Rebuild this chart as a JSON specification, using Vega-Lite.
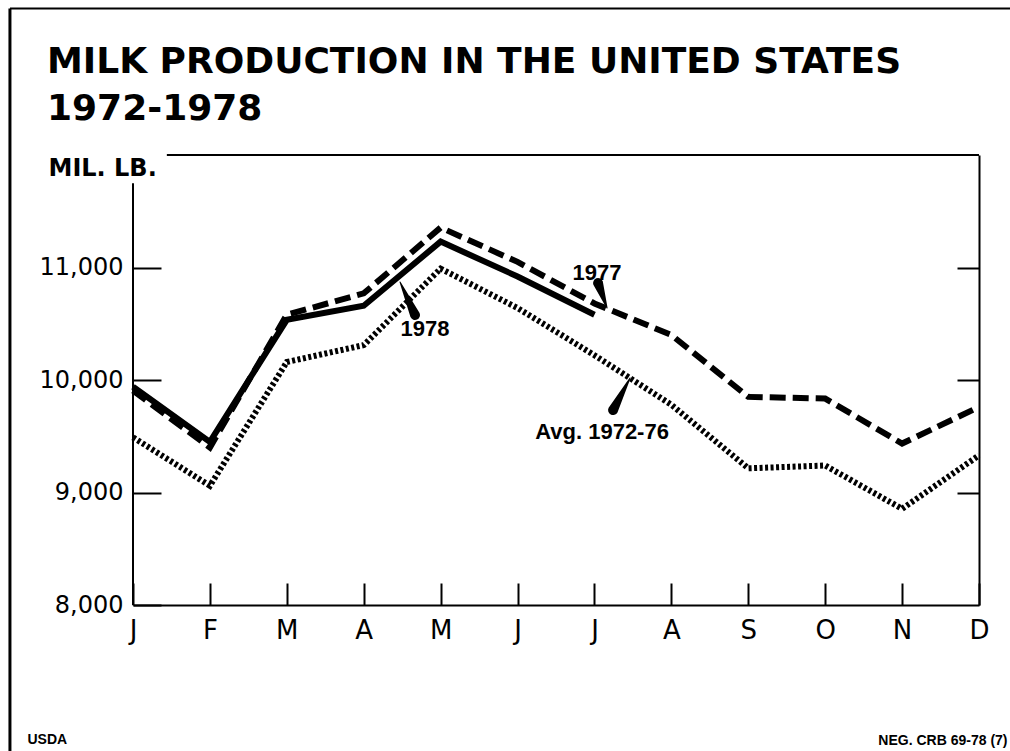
{
  "$schema": "https://vega.github.io/schema/vega-lite/v6.json",
  "width": 846,
  "height": 450,
  "autosize": "none",
  "padding": {"left": 133, "top": 155, "right": 31, "bottom": 146},
  "background": "white",
  "config": {"view": {"stroke": null}, "font": "DejaVu Sans"},
  "title": {
    "text": ["MILK PRODUCTION IN THE UNITED STATES", "1972-1978"],
    "anchor": "start",
    "frame": "group",
    "font": "DejaVu Sans",
    "fontSize": 36,
    "fontWeight": "bold",
    "lineHeight": 47,
    "color": "black",
    "baseline": "bottom",
    "dx": -86,
    "dy": 185,
    "offset": 28
  },
  "datasets": {
    "milk": [
      {"series": "Avg. 1972-76", "month": 1, "value": 9490},
      {"series": "Avg. 1972-76", "month": 2, "value": 9060},
      {"series": "Avg. 1972-76", "month": 3, "value": 10160},
      {"series": "Avg. 1972-76", "month": 4, "value": 10310},
      {"series": "Avg. 1972-76", "month": 5, "value": 10990},
      {"series": "Avg. 1972-76", "month": 6, "value": 10640},
      {"series": "Avg. 1972-76", "month": 7, "value": 10220},
      {"series": "Avg. 1972-76", "month": 8, "value": 9780},
      {"series": "Avg. 1972-76", "month": 9, "value": 9215},
      {"series": "Avg. 1972-76", "month": 10, "value": 9240},
      {"series": "Avg. 1972-76", "month": 11, "value": 8855},
      {"series": "Avg. 1972-76", "month": 12, "value": 9330},
      {"series": "1977", "month": 1, "value": 9905},
      {"series": "1977", "month": 2, "value": 9400},
      {"series": "1977", "month": 3, "value": 10580},
      {"series": "1977", "month": 4, "value": 10770},
      {"series": "1977", "month": 5, "value": 11355},
      {"series": "1977", "month": 6, "value": 11050},
      {"series": "1977", "month": 7, "value": 10680},
      {"series": "1977", "month": 8, "value": 10400},
      {"series": "1977", "month": 9, "value": 9850},
      {"series": "1977", "month": 10, "value": 9835},
      {"series": "1977", "month": 11, "value": 9435},
      {"series": "1977", "month": 12, "value": 9760},
      {"series": "1978", "month": 1, "value": 9940},
      {"series": "1978", "month": 2, "value": 9450},
      {"series": "1978", "month": 3, "value": 10535},
      {"series": "1978", "month": 4, "value": 10660},
      {"series": "1978", "month": 5, "value": 11230},
      {"series": "1978", "month": 6, "value": 10920},
      {"series": "1978", "month": 7, "value": 10580}
    ],
    "notes": [
      {"label": "1977", "month": 7.034, "value": 10889},
      {"label": "1978", "month": 4.797, "value": 10391},
      {"label": "Avg. 1972-76", "month": 7.099, "value": 9476}
    ],
    "pointers": [
      {"note": "1977", "end": "tip", "month": 7.164, "value": 10640},
      {"note": "1977", "end": "base", "month": 7.047, "value": 10862},
      {"note": "1978", "end": "tip", "month": 4.472, "value": 10871},
      {"note": "1978", "end": "base", "month": 4.667, "value": 10578},
      {"note": "Avg. 1972-76", "end": "tip", "month": 7.463, "value": 10018},
      {"note": "Avg. 1972-76", "end": "base", "month": 7.242, "value": 9733}
    ]
  },
  "layer": [
    {
      "data": {"name": "milk"},
      "transform": [{"filter": "datum.series === 'Avg. 1972-76'"}],
      "mark": {"type": "line", "color": "black", "strokeWidth": 6, "strokeDash": [3, 2.5], "strokeCap": "butt"},
      "encoding": {
        "x": {
          "field": "month", "type": "quantitative",
          "scale": {"domain": [1, 12], "nice": false, "zero": false},
          "axis": {
            "values": [1, 2, 3, 4, 5, 6, 7, 8, 9, 10, 11, 12],
            "labelExpr": "['J','F','M','A','M','J','J','A','S','O','N','D'][datum.value - 1]",
            "grid": false,
            "domain": true, "domainColor": "black", "domainWidth": 2,
            "ticks": true, "tickColor": "black", "tickWidth": 2, "tickSize": -22,
            "labelFont": "DejaVu Sans", "labelFontSize": 26, "labelColor": "black",
            "labelPadding": 34, "labelBaseline": "top", "labelFlush": false, "labelOverlap": false,
            "title": "USDA", "titleX": -106, "titleY": 138, "titleAlign": "left", "titleBaseline": "alphabetic",
            "titleFont": "Liberation Sans", "titleFontSize": 14, "titleFontWeight": "bold", "titleColor": "black"
          }
        },
        "y": {
          "field": "value", "type": "quantitative",
          "scale": {"domain": [8000, 12000], "nice": false, "zero": false},
          "axis": {
            "orient": "left",
            "values": [8000, 9000, 10000, 11000],
            "format": ",.0f",
            "grid": false,
            "domain": false,
            "ticks": true, "tickColor": "black", "tickWidth": 2, "tickSize": -28,
            "labelFont": "DejaVu Sans", "labelFontSize": 24, "labelColor": "black",
            "labelPadding": 38, "labelFlush": false, "labelOverlap": false,
            "title": "MIL. LB.", "titleAngle": 0, "titleX": -85, "titleY": 20, "titleAlign": "left", "titleBaseline": "alphabetic",
            "titleFont": "DejaVu Sans", "titleFontSize": 24, "titleFontWeight": "bold", "titleColor": "black"
          }
        }
      }
    },
    {
      "data": {"name": "milk"},
      "transform": [{"filter": "datum.series === '1977'"}],
      "mark": {"type": "line", "color": "black", "strokeWidth": 6, "strokeDash": [16, 7], "strokeCap": "butt"},
      "encoding": {
        "x": {"field": "month", "type": "quantitative", "scale": {"domain": [1, 12], "nice": false, "zero": false}},
        "y": {"field": "value", "type": "quantitative", "scale": {"domain": [8000, 12000], "nice": false, "zero": false}, "axis": null}
      }
    },
    {
      "data": {"name": "milk"},
      "transform": [{"filter": "datum.series === '1978'"}],
      "mark": {"type": "line", "color": "black", "strokeWidth": 6, "strokeCap": "butt"},
      "encoding": {
        "x": {"field": "month", "type": "quantitative", "scale": {"domain": [1, 12], "nice": false, "zero": false}},
        "y": {
          "field": "value", "type": "quantitative",
          "scale": {"domain": [8000, 12000], "nice": false, "zero": false},
          "axis": {
            "orient": "right",
            "values": [9000, 10000, 11000],
            "grid": false,
            "domain": true, "domainColor": "black", "domainWidth": 2,
            "ticks": true, "tickColor": "black", "tickWidth": 2, "tickSize": -22,
            "labels": false,
            "title": "NEG. CRB 69-78 (7)", "titleAngle": 0, "titleX": 28, "titleY": 589, "titleAlign": "right", "titleBaseline": "alphabetic",
            "titleFont": "Liberation Sans", "titleFontSize": 14, "titleFontWeight": "bold", "titleColor": "black"
          }
        }
      }
    },
    {
      "data": {"name": "pointers"},
      "mark": {"type": "trail", "color": "black"},
      "encoding": {
        "x": {"field": "month", "type": "quantitative", "scale": {"domain": [1, 12], "nice": false, "zero": false}},
        "y": {"field": "value", "type": "quantitative", "scale": {"domain": [8000, 12000], "nice": false, "zero": false}, "axis": null},
        "detail": {"field": "note", "type": "nominal"},
        "order": {"field": "end", "type": "ordinal"},
        "size": {"field": "end", "type": "ordinal", "scale": {"domain": ["tip", "base"], "range": [1, 10]}, "legend": null}
      }
    },
    {
      "data": {"name": "notes"},
      "mark": {"type": "text", "color": "black", "font": "Liberation Sans", "fontSize": 22, "fontWeight": "bold", "align": "center", "baseline": "alphabetic"},
      "encoding": {
        "x": {"field": "month", "type": "quantitative", "scale": {"domain": [1, 12], "nice": false, "zero": false}},
        "y": {"field": "value", "type": "quantitative", "scale": {"domain": [8000, 12000], "nice": false, "zero": false}, "axis": null},
        "text": {"field": "label", "type": "nominal"}
      }
    },
    {
      "data": {"values": [{}]},
      "mark": {"type": "rule", "color": "black", "strokeWidth": 2},
      "encoding": {
        "x": {"datum": 1, "type": "quantitative", "scale": {"domain": [1, 12], "nice": false, "zero": false}},
        "y": {"datum": 8000, "type": "quantitative", "scale": {"domain": [8000, 12000], "nice": false, "zero": false}, "axis": null},
        "y2": {"datum": 11750}
      }
    },
    {
      "data": {"values": [{}]},
      "mark": {"type": "rule", "color": "black", "strokeWidth": 2},
      "encoding": {
        "x": {"datum": 1.44, "type": "quantitative", "scale": {"domain": [1, 12], "nice": false, "zero": false}},
        "x2": {"datum": 12},
        "y": {"datum": 12000, "type": "quantitative", "scale": {"domain": [8000, 12000], "nice": false, "zero": false}, "axis": null}
      }
    },
    {
      "data": {"values": [{}]},
      "mark": {"type": "rule", "color": "black", "strokeWidth": 3},
      "encoding": {
        "x": {"datum": -0.6, "type": "quantitative", "scale": {"domain": [1, 12], "nice": false, "zero": false}},
        "y": {"datum": 6702, "type": "quantitative", "scale": {"domain": [8000, 12000], "nice": false, "zero": false}, "axis": null},
        "y2": {"datum": 13302}
      }
    },
    {
      "data": {"values": [{}]},
      "mark": {"type": "rule", "color": "black", "strokeWidth": 2},
      "encoding": {
        "x": {"datum": -0.6, "type": "quantitative", "scale": {"domain": [1, 12], "nice": false, "zero": false}},
        "x2": {"datum": 12.41},
        "y": {"datum": 13302, "type": "quantitative", "scale": {"domain": [8000, 12000], "nice": false, "zero": false}, "axis": null}
      }
    }
  ],
  "resolve": {"axis": {"y": "independent"}}
}
